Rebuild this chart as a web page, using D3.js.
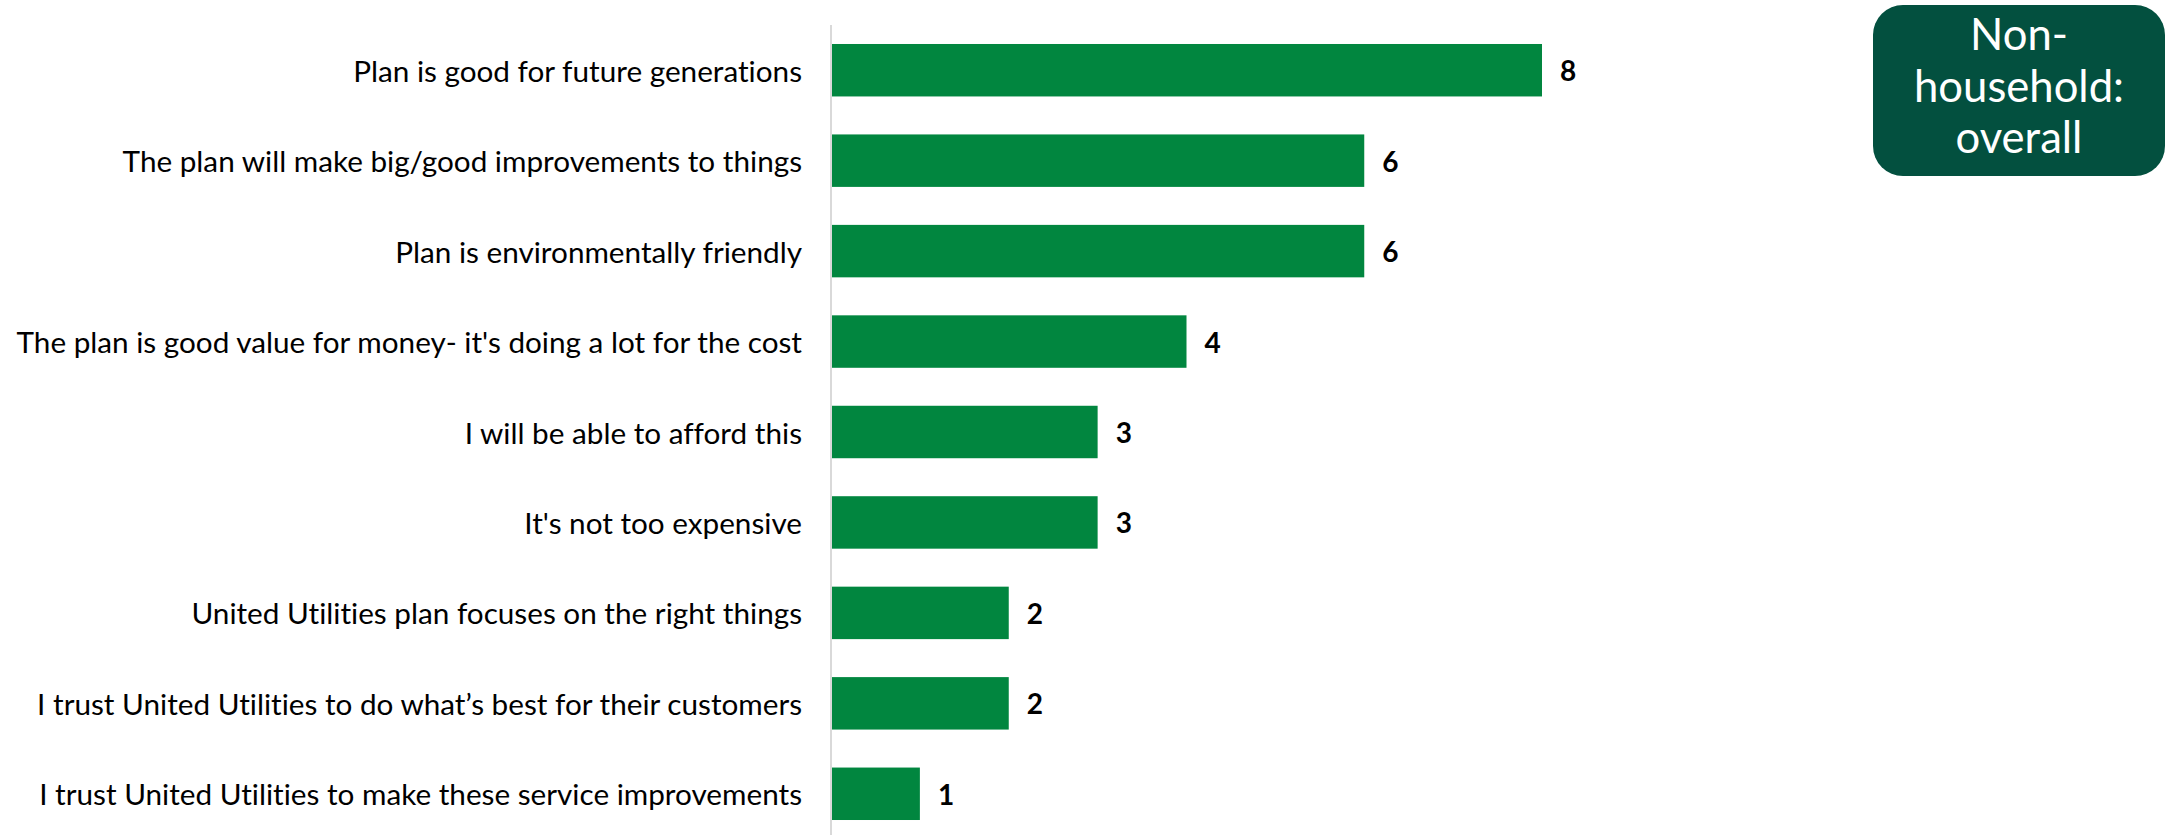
<!DOCTYPE html>
<html>
<head>
<meta charset="utf-8">
<script src="https://cdn.jsdelivr.net/npm/d3@7"></script>
<style>
  html, body { margin: 0; padding: 0; background: #ffffff; }
  svg { display: block; }
  text { font-variant-ligatures: none; }
</style>
</head>
<body>
<svg id="chart" width="2167" height="835"></svg>
<script>
// Reasons given in favour of the plan (counts of mentions)
const categories = [
  "Plan is good for future generations",
  "The plan will make big/good improvements to things",
  "Plan is environmentally friendly",
  "The plan is good value for money- it's doing a lot for the cost",
  "I will be able to afford this",
  "It's not too expensive",
  "United Utilities plan focuses on the right things",
  "I trust United Utilities to do what\u2019s best for their customers",
  "I trust United Utilities to make these service improvements"
];
const values = [8, 6, 6, 4, 3, 3, 2, 2, 1];
const badgeLines = ["Non-", "household:", "overall"];

const svg = d3.select("#chart");
const FONT = "Lato, 'Open Sans', sans-serif";

const y = d3.scaleBand()
  .domain(categories)
  .range([25, 839])
  .paddingInner(0.42)
  .paddingOuter(0.21);

const x = d3.scaleLinear()
  .domain([0, 8])
  .range([831, 1542]);

// Bars
svg.append("g")
  .selectAll("rect")
  .data(values)
  .join("rect")
  .attr("x", x(0))
  .attr("y", (d, i) => y(categories[i]))
  .attr("width", d => x(d) - x(0))
  .attr("height", y.bandwidth())
  .attr("fill", "#01863F");

// Category axis line
svg.append("line")
  .attr("x1", x(0)).attr("x2", x(0))
  .attr("y1", y.range()[0]).attr("y2", y.range()[1])
  .attr("stroke", "#D9D9D9")
  .attr("stroke-width", 2);

// Category labels, right-aligned against the axis
const labelRight = 802;
const catLabels = svg.append("g").selectAll("text")
  .data(categories)
  .join("text")
  .attr("x", labelRight)
  .attr("y", d => y(d) + y.bandwidth() / 2)
  .attr("text-anchor", "end")
  .attr("dominant-baseline", "central")
  .attr("font-family", FONT)
  .attr("font-size", 29)
  .attr("fill", "#000")
  .text(d => d);

// size the labels so the longest one fills the space left of the axis
const longest = d3.max(catLabels.nodes(), n => n.getComputedTextLength());
catLabels.attr("font-size", 29 * 786 / longest);

// Value labels
svg.append("g")
  .selectAll("text")
  .data(values)
  .join("text")
  .attr("x", d => x(d) + 18)
  .attr("y", (d, i) => y(categories[i]) + y.bandwidth() / 2)
  .attr("dominant-baseline", "central")
  .attr("font-family", FONT)
  .attr("font-weight", "bold")
  .attr("font-size", 28)
  .attr("fill", "#000")
  .text(d => d);

// Segment badge
const badge = svg.append("g");
badge.append("rect")
  .attr("x", 1873).attr("y", 5)
  .attr("width", 292).attr("height", 171)
  .attr("rx", 30).attr("ry", 30)
  .attr("fill", "#03503F");
const badgeText = badge.selectAll("text")
  .data(badgeLines)
  .join("text")
  .attr("x", 2019)
  .attr("y", (d, i) => 50 + i * 51.5)
  .attr("text-anchor", "middle")
  .attr("font-family", FONT)
  .attr("font-size", 40)
  .attr("fill", "#ffffff")
  .text(d => d);
const wide = badgeText.nodes()[1].getComputedTextLength();
badgeText.attr("font-size", 40 * 210 / wide);
</script>
</body>
</html>
